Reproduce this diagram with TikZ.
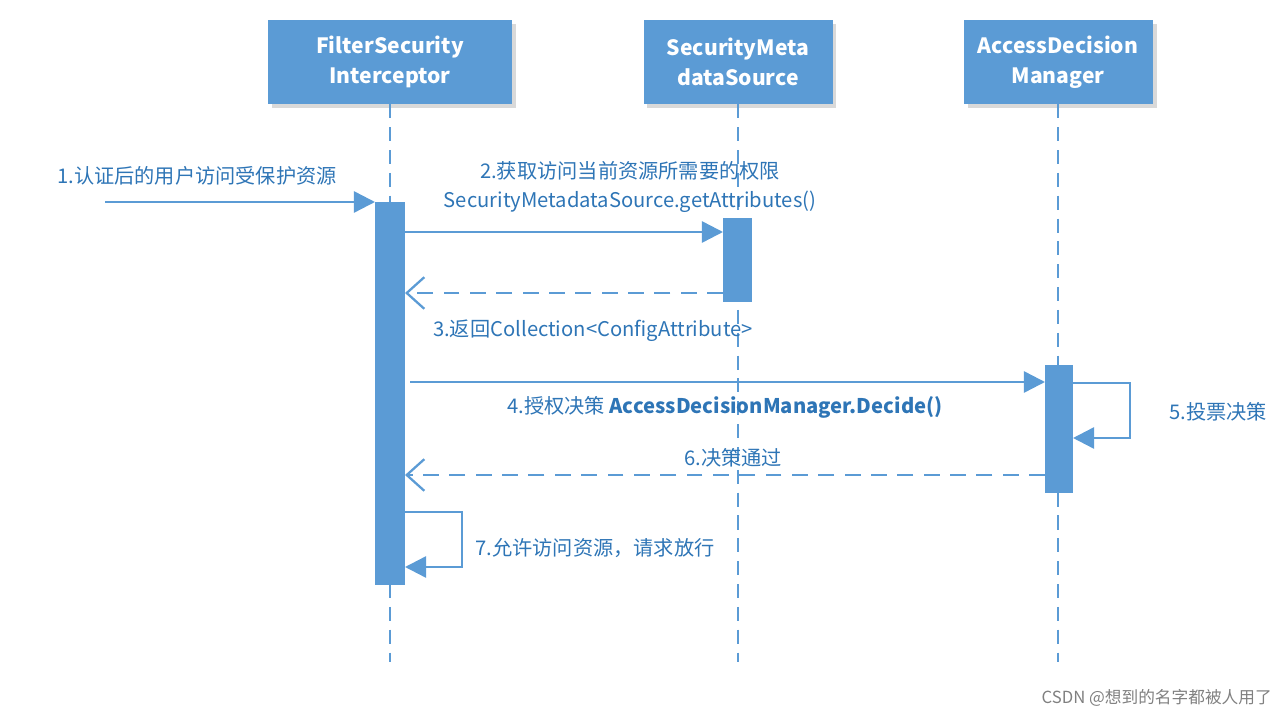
\documentclass[tikz,border=0pt]{standalone}
\usepackage{fontspec}
\setmainfont{Noto Sans CJK SC}
\usetikzlibrary{arrows.meta}
\definecolor{bl}{HTML}{5B9BD5}
\definecolor{tx}{HTML}{2E75B6}
\begin{document}
\begin{tikzpicture}[x=0.02cm,y=-0.02cm,
  box/.style={fill=bl,draw=none,text=white,align=center,font=\fontsize{12}{17}\selectfont\bfseries,minimum width=189*0.02cm,minimum height=84*0.02cm,inner sep=0},
  bar/.style={fill=bl,draw=none},
  life/.style={bl,line width=1.2pt,dash pattern=on 8pt off 5pt},
  msg/.style={bl,line width=1.4pt,-{Triangle[length=12pt,width=12pt]}},
  ret/.style={bl,line width=1.4pt,dash pattern=on 9pt off 6pt,-{Straight Barb[length=10pt,width=18pt,line width=1.3pt]}},
  lab/.style={text=tx,font=\fontsize{11.5}{17}\selectfont,align=center,inner sep=1pt}]
\useasboundingbox (0,0) rectangle (1288,719);
% boxes
\fill[gray!30] (272,24) rectangle (516,108);
\fill[gray!30] (647,24) rectangle (836,108);
\fill[gray!30] (968,24) rectangle (1157,108);
\node[box,minimum width=244*0.02cm] (b1) at (390,62) {FilterSecurity\\Interceptor};
\node[box] (b2) at (738,62) {SecurityMeta\\dataSource};
\node[box] (b3) at (1058,62) {AccessDecision\\Manager};
% lifelines
\coordinate (e1) at (390,662); \coordinate (e2) at (738,662); \coordinate (e3) at (1058,662);
\draw[life] (b1.south) -- (e1);
\draw[life] (b2.south) -- (e2);
\draw[life] (b3.south) -- (e3);
% bars
\fill[bar] (375,202) rectangle (405,585);
\fill[bar] (723,218) rectangle (752,302);
\fill[bar] (1045,365) rectangle (1073,493);
% messages
\coordinate (s1) at (105,202); \coordinate (t1) at (375,202);
\draw[msg] (s1) -- (t1);
\node[lab] at (197,176) {1.认证后的用户访问受保护资源};
\coordinate (s2) at (405,232); \coordinate (t2) at (723,232);
\draw[msg] (s2) -- (t2);
\node[lab] at (630,187) {2.获取访问当前资源所需要的权限\\SecurityMetadataSource.getAttributes()};
\coordinate (s3) at (723,293); \coordinate (t3) at (405,293);
\draw[ret] (s3) -- (t3);
\node[lab] at (593,331) {3.返回Collection<ConfigAttribute>};
\coordinate (s4) at (410,382); \coordinate (t4) at (1045,382);
\draw[msg] (s4) -- (t4);
\node[lab] at (725,407) {4.授权决策 \textbf{AccessDecisionManager.Decide()}};
\coordinate (s5) at (1073,383); \coordinate (t5) at (1073,438);
\draw[msg] (s5) -- (1130,383) -- (1130,438) -- (t5);
\node[lab] at (1218,412) {5.投票决策};
\coordinate (s6) at (1045,475); \coordinate (t6) at (405,475);
\draw[ret] (s6) -- (t6);
\node[lab] at (733,458) {6.决策通过};
\coordinate (s7) at (405,512); \coordinate (t7) at (405,567);
\draw[msg] (s7) -- (462,512) -- (462,567) -- (t7);
\node[lab] at (595,548) {7.允许访问资源，请求放行};
\node[text=gray,font=\fontsize{9.5}{11}\selectfont,anchor=east] at (1278,698) {CSDN @想到的名字都被人用了};
\end{tikzpicture}
\end{document}
